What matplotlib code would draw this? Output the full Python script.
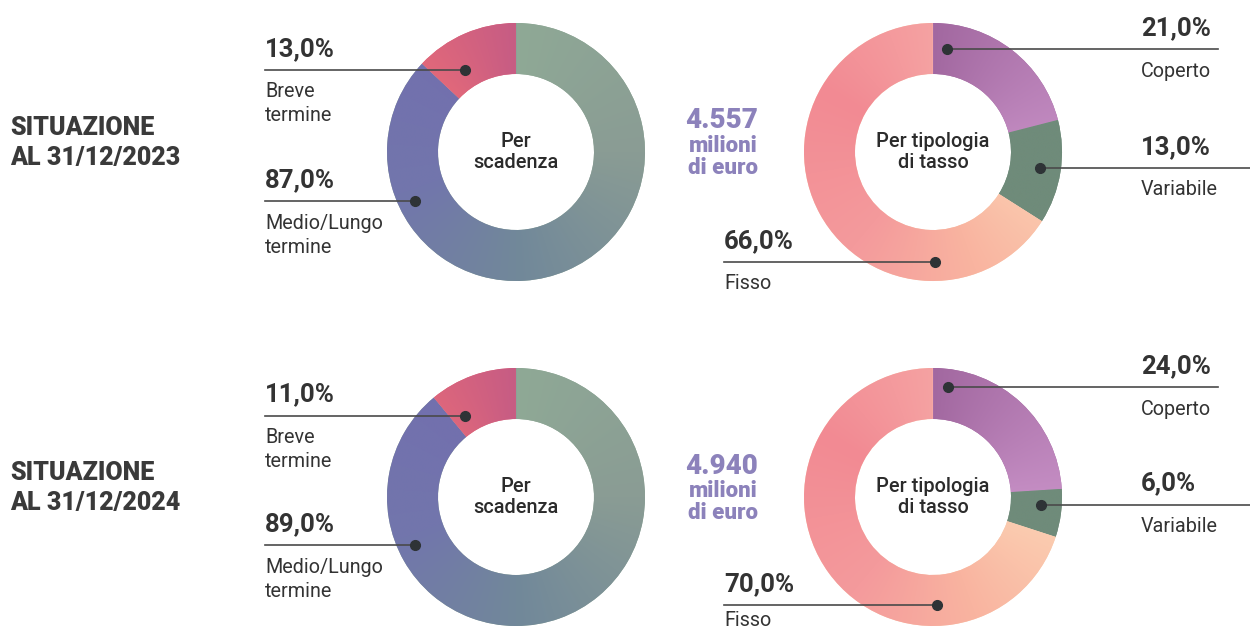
import numpy as np
import matplotlib.pyplot as plt
from matplotlib.colors import to_rgb

plt.rcParams['font.family'] = ['Roboto', 'DejaVu Sans']

W, H = 1250, 632

# data
years = ['2023', '2024']
amounts = ['4.557', '4.940']
maturity_labels = ['Medio/Lungo\ntermine', 'Breve\ntermine']
maturity_2023 = [87.0, 13.0]
maturity_2024 = [89.0, 11.0]
rate_labels = ['Coperto', 'Variabile', 'Fisso']
rate_2023 = [21.0, 13.0, 66.0]
rate_2024 = [24.0, 6.0, 70.0]

# colour stops along the ring (degrees clockwise from 12 o'clock)
maturity_colors = [
    [(0, '#8fa996'), (90, '#8a9c94'), (180, '#71889a'), (250, '#7276ac'), (320, '#7270ae')],
    [(310, '#e3697a'), (360, '#c65c84')],
]
rate_colors = [
    [(0, '#a268a0'), (90, '#c58ec4')],
    [(0, '#6f8b7a'), (360, '#6f8b7a')],
    [(100, '#fbcfb2'), (160, '#f9b4a0'), (220, '#f49a9c'), (300, '#f28a93'), (360, '#f5a2a2')],
]

# layout
row_y = [152, 497]
left_cx, right_cx = 516, 933
R, RING = 129, 51
# callout dots: (angle clockwise from top, distance from centre) per row
maturity_dots = [[(244, 112), (328, 97)], [(244.5, 112), (328, 96)]]
rate_dots = [[(8, 104), (98.5, 108), (179, 110)], [(8, 111), (94, 108), (178, 108)]]

TXT = '#333333'
LINE = '#4a4a4a'
AMOUNT = '#8c82bb'

fig = plt.figure(figsize=(12.5, 6.32), dpi=100)
ax = fig.add_axes([0, 0, 1, 1])


def Y(y_px):
    return H - y_px


def pct(v):
    return f'{v:.1f}'.replace('.', ',') + '%'


def ring_color(stops, ang):
    a = [s[0] for s in stops]
    rgb = np.array([to_rgb(s[1]) for s in stops])
    return np.stack([np.interp(ang, a, rgb[:, k]) for k in range(3)], axis=-1)


def donut(cx, cy_px, values, stops, title):
    cy = Y(cy_px)
    wedges, _ = ax.pie(values, center=(cx, cy), radius=R, startangle=90,
                       counterclock=False, colors=[s[0][1] for s in stops],
                       wedgeprops=dict(width=RING, linewidth=0))
    # shade each wedge with an angular gradient clipped to its shape
    n = 400
    xs = np.linspace(cx - R, cx + R, n)
    ys = np.linspace(cy - R, cy + R, n)
    gx, gy = np.meshgrid(xs, ys)
    ang = np.degrees(np.arctan2(gx - cx, gy - cy)) % 360
    for w, st in zip(wedges, stops):
        img = ring_color(st, ang)
        im = ax.imshow(img, extent=(cx - R, cx + R, cy - R, cy + R),
                       origin='lower', interpolation='bilinear', zorder=2)
        im.set_clip_path(w)
    ax.text(cx, cy, title, ha='center', va='center', fontsize=14.3,
            fontweight='medium', color='#2b2b2b', linespacing=1.1, zorder=3)


def callout(cx, cy_px, dot, value, name, x_text, x_end, align_left):
    angle, dist = dot
    t = np.radians(angle)
    dx = cx + dist * np.sin(t)
    dy = Y(cy_px) + dist * np.cos(t)
    if align_left:
        ax.plot([x_text, dx], [dy, dy], color=LINE, lw=1.2, zorder=4)
    else:
        ax.plot([dx, x_end], [dy, dy], color=LINE, lw=1.2, zorder=4)
    ax.plot(dx, dy, 'o', color='#2e3336', ms=7, zorder=5)
    ax.text(x_text, dy + 21, pct(value), ha='left', va='center',
            fontsize=18.5, fontweight='bold', color=TXT)
    for i, line in enumerate(name.split('\n')):
        ty = max(dy - 22 - 24 * i, 12)
        ax.text(x_text, ty, line, ha='left', va='center',
                fontsize=14.2, color=TXT)


maturity = [maturity_2023, maturity_2024]
rates = [rate_2023, rate_2024]

for r in range(2):
    cy = row_y[r]
    ax.text(10, Y(cy - 24), 'SITUAZIONE', ha='left', va='center',
            fontsize=18, fontweight='black', color='#3a3a3a')
    ax.text(10, Y(cy + 6), f'AL 31/12/{years[r]}', ha='left', va='center',
            fontsize=18, fontweight='black', color='#3a3a3a')

    donut(left_cx, cy, maturity[r], maturity_colors, 'Per\nscadenza')
    donut(right_cx, cy, rates[r], rate_colors, 'Per tipologia\ndi tasso')

    for v, name, dot in zip(maturity[r], maturity_labels, maturity_dots[r]):
        callout(left_cx, cy, dot, v, name, 265, None, True)

    callout(right_cx, cy, rate_dots[r][0], rates[r][0], rate_labels[0], 1141, 1218, False)
    callout(right_cx, cy, rate_dots[r][1], rates[r][1], rate_labels[1], 1141, 1250, False)
    callout(right_cx, cy, rate_dots[r][2], rates[r][2], rate_labels[2], 724, None, True)

    ax.text(758, Y(cy - 31), amounts[r], ha='right', va='center',
            fontsize=20, fontweight='black', color=AMOUNT)
    ax.text(758, Y(cy - 6), 'milioni', ha='right', va='center',
            fontsize=16, fontweight='black', color=AMOUNT)
    ax.text(758, Y(cy + 16), 'di euro', ha='right', va='center',
            fontsize=16, fontweight='black', color=AMOUNT)

ax.set_xlim(0, W)
ax.set_ylim(0, H)
ax.set_aspect('equal')
ax.axis('off')

fig.savefig('out.png', dpi=100)
